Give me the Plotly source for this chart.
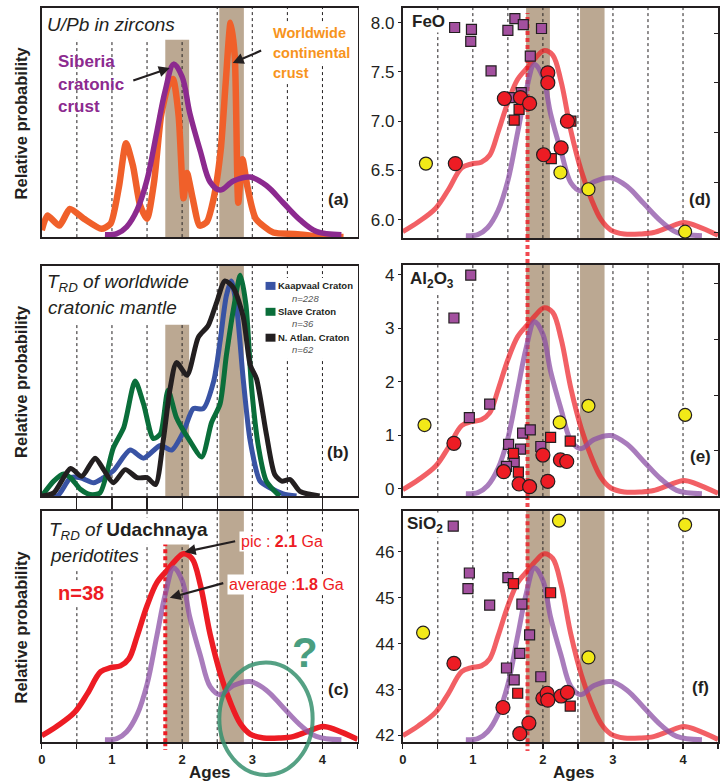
import plotly.graph_objects as go

W, H = 727, 783
FONT = "Liberation Sans, Arial, Helvetica, sans-serif"
INK = "#231f20"

# ---------------- data ----------------
# Panel (a): U/Pb in zircons
ages_siberia = [0.9, 1.07, 1.21, 1.36, 1.5, 1.64, 1.76, 1.88, 2.0, 2.11, 2.26, 2.4, 2.54, 2.73, 2.97, 3.2, 3.44, 3.68, 3.91, 4.27]
prob_siberia = [0.01, 0.015, 0.045, 0.12, 0.25, 0.46, 0.64, 0.755, 0.70, 0.54, 0.375, 0.24, 0.205, 0.245, 0.262, 0.225, 0.15, 0.075, 0.025, 0.01]

ages_world = [0.0, 0.08, 0.25, 0.4, 0.6, 0.85, 0.98, 1.1, 1.2, 1.3, 1.4, 1.5, 1.6, 1.7, 1.8, 1.87, 1.95, 2.02, 2.07,
              2.15, 2.25, 2.35, 2.45, 2.55, 2.62, 2.69, 2.75, 2.8, 2.86, 2.93, 3.05, 3.3, 3.6, 3.9, 4.3]
prob_world = [0.03, 0.094, 0.05, 0.123, 0.08, 0.036, 0.058, 0.22, 0.41, 0.31, 0.14, 0.08, 0.24, 0.53, 0.66, 0.69, 0.53, 0.17, 0.28,
              0.17, 0.05, 0.065, 0.17, 0.38, 0.67, 0.935, 0.79, 0.15, 0.34, 0.22, 0.08, 0.02, 0.014, 0.004, 0.0]

# Panel (b): T_RD of worldwide cratonic mantle
ages_kaap = [0.0, 0.22, 0.41, 0.55, 0.74, 0.88, 1.02, 1.26, 1.45, 1.69, 1.85, 2.02, 2.16, 2.3, 2.45, 2.54, 2.63, 2.7, 2.78, 2.87, 2.97, 3.11, 3.25, 3.44, 3.63]
prob_kaap = [0.0, 0.0, 0.08, 0.08, 0.058, 0.08, 0.11, 0.2, 0.165, 0.22, 0.2, 0.28, 0.38, 0.38, 0.5, 0.67, 0.87, 0.935, 0.81, 0.51, 0.24, 0.065, 0.036, 0.01, 0.0]

ages_slave = [0.0, 0.17, 0.31, 0.41, 0.55, 0.69, 0.83, 1.02, 1.17, 1.33, 1.45, 1.59, 1.69, 1.8, 1.92, 2.11, 2.28, 2.42, 2.54, 2.63, 2.73, 2.83, 2.91, 2.99, 3.09, 3.2, 3.39]
prob_slave = [0.0, 0.065, 0.096, 0.08, 0.03, 0.007, 0.014, 0.21, 0.3, 0.5, 0.4, 0.25, 0.27, 0.46, 0.34, 0.24, 0.17, 0.32, 0.4, 0.61, 0.81, 0.96, 0.83, 0.47, 0.21, 0.065, 0.0]

ages_natl = [0.0, 0.17, 0.41, 0.57, 0.76, 0.88, 1.02, 1.19, 1.36, 1.5, 1.62, 1.73, 1.83, 1.92, 2.07, 2.23, 2.37, 2.49, 2.61, 2.73, 2.87, 2.97, 3.06, 3.2, 3.32, 3.42, 3.54, 3.68, 3.96]
prob_natl = [0.0, 0.014, 0.12, 0.086, 0.165, 0.115, 0.058, 0.115, 0.08, 0.08, 0.05, 0.24, 0.47, 0.58, 0.525, 0.69, 0.74, 0.84, 0.935, 0.906, 0.78, 0.57, 0.51, 0.27, 0.094, 0.065, 0.072, 0.02, 0.0]

# Panel (c)-(f): T_RD of Udachnaya peridotites
ages_uda = [0.0, 0.22, 0.47, 0.65, 0.84, 0.98, 1.12, 1.24, 1.36, 1.5, 1.64, 1.79, 1.9, 2.02, 2.14, 2.26, 2.4, 2.55, 2.69, 2.83, 2.97, 3.16, 3.4, 3.58, 3.78, 4.01, 4.2, 4.5]
prob_uda = [0.028, 0.07, 0.13, 0.21, 0.305, 0.322, 0.33, 0.36, 0.46, 0.59, 0.69, 0.745, 0.785, 0.815, 0.795, 0.68, 0.465, 0.29, 0.17, 0.08, 0.035, 0.018, 0.018, 0.024, 0.045, 0.068, 0.052, 0.012]

# Panel (d) FeO
feo_psq_age = [0.74, 0.98, 0.97, 1.26, 1.50, 1.60, 1.72, 1.98, 1.82, 1.69, 1.52]
feo_psq_val = [7.95, 7.93, 7.81, 7.51, 7.92, 8.04, 7.98, 7.94, 7.66, 7.29, 7.24]
feo_rsq_age = [1.59, 1.66, 2.12, 2.40]
feo_rsq_val = [7.01, 7.12, 6.62, 7.00]
feo_rci_age = [0.75, 1.45, 1.68, 1.81, 2.07, 2.07, 2.35, 2.01, 2.26]
feo_rci_val = [6.57, 7.23, 7.24, 7.18, 7.49, 7.39, 7.00, 6.66, 6.73]
feo_yci_age = [0.33, 2.25, 2.65, 4.03]
feo_yci_val = [6.57, 6.48, 6.31, 5.88]

# Panel (e) Al2O3
al_psq_age = [0.97, 0.73, 0.95, 1.24, 1.51, 1.71, 1.82, 1.68, 1.59, 1.48, 1.97]
al_psq_val = [3.99, 3.19, 1.33, 1.58, 0.83, 1.04, 1.10, 0.74, 0.51, 0.42, 0.79]
al_rsq_age = [2.11, 2.39, 1.58, 1.65]
al_rsq_val = [0.96, 0.89, 0.66, 0.31]
al_rci_age = [0.73, 1.44, 1.66, 1.81, 2.00, 2.07, 2.25, 2.34]
al_rci_val = [0.85, 0.32, 0.09, 0.04, 0.63, 0.14, 0.54, 0.51]
al_yci_age = [0.31, 2.24, 2.65, 4.03]
al_yci_val = [1.19, 1.24, 1.55, 1.38]

# Panel (f) SiO2
si_psq_age = [0.72, 0.95, 0.93, 1.24, 1.50, 1.70, 1.81, 1.67, 1.48, 1.59, 1.97]
si_psq_val = [46.56, 45.54, 45.20, 44.84, 45.44, 44.86, 44.19, 43.79, 43.47, 43.21, 43.28]
si_rsq_age = [1.58, 2.11, 1.64, 2.39]
si_rsq_val = [45.31, 45.11, 42.92, 42.64]
si_rci_age = [0.73, 1.43, 1.67, 1.80, 2.00, 2.06, 2.07, 2.26, 2.35]
si_rci_val = [43.57, 42.61, 42.04, 42.27, 42.81, 42.92, 42.77, 42.86, 42.94]
si_yci_age = [0.29, 2.23, 2.65, 4.03]
si_yci_val = [44.24, 46.68, 43.70, 46.59]

grid_ages = [0.5, 1.0, 1.5, 2.0, 2.5, 3.0, 3.5, 4.0]
bands = [(1.76, 2.10), (2.53, 2.88)]
avg_age_c = 1.76
avg_age_right = 1.78
x_tick_vals = [0, 0.5, 1, 1.5, 2, 2.5, 3, 3.5, 4, 4.5]
x_tick_text = ["0", "", "1", "", "2", "", "3", "", "4", ""]
feo_ticks = [6.0, 6.5, 7.0, 7.5, 8.0]
al_ticks = [0, 1, 2, 3, 4]
si_ticks = [42, 43, 44, 45, 46]
right_ticks_d = [0.026, 0.242, 0.459, 0.675, 0.89]
right_ticks_e = [0.198, 0.435, 0.677, 0.918]

# ---------------- geometry (pixels) ----------------
XMAX = 4.5
LEFT = (38, 355.5)
RIGHT = (401, 718)
PA, PB, PC = (8, 238), (267, 498), (513, 745)
PD, PE, PF = (8, 239), (266, 498), (513, 745)


def xdom(s):
    return [s[0] / W, s[1] / W]


def ydom(p):
    return [1 - p[1] / H, 1 - p[0] / H]


def px_x(side, v):
    return side[0] + (side[1] - side[0]) * v / XMAX


def px_y(panel, frac):
    return panel[1] - (panel[1] - panel[0]) * frac


def ax_common(**kw):
    d = dict(showgrid=False, zeroline=False, showline=True, linecolor=INK,
             linewidth=1.6, mirror=True, ticks="", showticklabels=False)
    d.update(kw)
    return d


fig = go.Figure()

ORANGE = "#f0602a"
PURPLE = "#8c2a8f"
LPURPLE = "rgba(140,80,165,0.75)"
RED = "#ed1c24"
LRED = "rgba(237,28,36,0.70)"
BLUE = "#3953a4"
GREEN = "#0a6e3a"
BAND = "#bba892"


def line(x, y, xa, ya, color, width, smooth=1.0):
    fig.add_trace(go.Scatter(x=x, y=y, xaxis=xa, yaxis=ya, mode="lines",
                             line=dict(color=color, width=width, shape="spline", smoothing=smooth),
                             hoverinfo="skip"))


# (a)
line(ages_world, prob_world, "x", "y", ORANGE, 6.5, 0.6)
line(ages_siberia, prob_siberia, "x", "y", PURPLE, 5.5)
# (b)
line(ages_kaap, prob_kaap, "x2", "y2", BLUE, 5, 0.7)
line(ages_slave, prob_slave, "x2", "y2", GREEN, 5, 0.7)
line(ages_natl, prob_natl, "x2", "y2", INK, 5, 0.7)
# (c)
line(ages_uda, prob_uda, "x3", "y3", RED, 5.5)
line(ages_siberia, prob_siberia, "x3", "y3", LPURPLE, 5)
# (d)(e)(f) curves on the probability axes
for xa, ya in (("x4", "y4"), ("x5", "y5"), ("x6", "y6")):
    line(ages_uda, prob_uda, xa, ya, LRED, 5)
    line(ages_siberia, prob_siberia, xa, ya, LPURPLE, 5)


def pts(x, y, xa, ya, symbol, color, size):
    fig.add_trace(go.Scatter(x=x, y=y, xaxis=xa, yaxis=ya, mode="markers", cliponaxis=False,
                             marker=dict(symbol=symbol, color=color, size=size,
                                         line=dict(color=INK, width=1.2)),
                             hoverinfo="skip"))


SQP = "#a3509f"
YEL = "#f2e918"
for xa, ya, d in (("x4", "y7", (feo_psq_age, feo_psq_val, feo_rsq_age, feo_rsq_val, feo_rci_age, feo_rci_val, feo_yci_age, feo_yci_val)),
                  ("x5", "y8", (al_psq_age, al_psq_val, al_rsq_age, al_rsq_val, al_rci_age, al_rci_val, al_yci_age, al_yci_val)),
                  ("x6", "y9", (si_psq_age, si_psq_val, si_rsq_age, si_rsq_val, si_rci_age, si_rci_val, si_yci_age, si_yci_val))):
    pts(d[0], d[1], xa, ya, "square", SQP, 10)
    pts(d[2], d[3], xa, ya, "square", RED, 10)
    pts(d[4], d[5], xa, ya, "circle", RED, 14)
    pts(d[6], d[7], xa, ya, "circle", YEL, 13)

# ---------------- shapes ----------------
shapes = []
panels = [("x", "y"), ("x2", "y2"), ("x3", "y3"), ("x4", "y4"), ("x5", "y5"), ("x6", "y6")]
for xr, yr in panels:
    for b0, b1 in bands:
        shapes.append(dict(type="rect", xref=xr, yref=yr, x0=b0, x1=b1, y0=0, y1=1,
                           fillcolor=BAND, line=dict(width=0), layer="below"))
    for g in grid_ages:
        shapes.append(dict(type="line", xref=xr, yref=yr, x0=g, x1=g, y0=0, y1=1,
                           line=dict(color=INK, width=1, dash="3px,3px"), layer="below"))

# white masks where the reference leaves the top of the panel blank
masks = [("x", "y", 0.0, 2.45, 0.861, 1.0),
         ("x2", "y2", 0.0, 2.45, 0.745, 1.0),
         ("x2", "y2", 3.15, 4.5, 0.597, 0.948),
         ("x3", "y3", 0.0, 1.3, 0.746, 1.0),
         ("x3", "y3", 1.65, 2.3, 0.858, 1.0)]
for xr, yr, x0, x1, y0, y1 in masks:
    shapes.append(dict(type="rect", xref=xr, yref=yr, x0=x0, x1=x1, y0=y0, y1=y1,
                       fillcolor="white", line=dict(width=0), layer="below"))

# red dotted "average" lines
shapes.append(dict(type="line", xref="x3", yref="y3", x0=avg_age_c, x1=avg_age_c, y0=0, y1=0.858,
                   line=dict(color=RED, width=4, dash="4px,3px"), layer="below"))
xc = px_x(LEFT, avg_age_c) / W
shapes.append(dict(type="line", xref="paper", yref="paper", x0=xc, x1=xc, y0=1 - 745 / H, y1=1 - 753 / H,
                   line=dict(color=RED, width=4, dash="4px,3px"), layer="below"))
for xr, yr, top in (("x4", "y4", 0.978), ("x5", "y5", 1.0), ("x6", "y6", 1.0)):
    shapes.append(dict(type="line", xref=xr, yref=yr, x0=avg_age_right, x1=avg_age_right, y0=0, y1=top,
                       line=dict(color="rgba(237,28,36,0.8)", width=4, dash="4px,3px"), layer="below"))
xr_ = px_x(RIGHT, avg_age_right) / W
for a, b in ((239, 266), (498, 513), (745, 754)):
    shapes.append(dict(type="line", xref="paper", yref="paper", x0=xr_, x1=xr_, y0=1 - a / H, y1=1 - b / H,
                       line=dict(color="rgba(237,28,36,0.8)", width=4, dash="4px,3px"), layer="below"))

# green ellipse in (c)
ex0, ex1 = px_x(LEFT, 2.53), px_x(LEFT, 3.86)
ey0, ey1 = px_y(PC, 0.345), px_y(PC, -0.142)
shapes.append(dict(type="circle", xref="paper", yref="paper", x0=ex0 / W, x1=ex1 / W,
                   y0=1 - ey1 / H, y1=1 - ey0 / H, line=dict(color="rgba(55,145,110,0.85)", width=4),
                   layer="above"))

# legend squares for (b)
for col, (t, b) in ((BLUE, (283, 291)), (GREEN, (309, 317)), (INK, (335, 343))):
    shapes.append(dict(type="rect", xref="paper", yref="paper", x0=263 / W, x1=273 / W,
                       y0=1 - b / H, y1=1 - t / H, fillcolor=col, line=dict(width=0), layer="above"))

# ---------------- annotations ----------------
anns = []


def ann(text, x, y, size, color=INK, xanchor="left", yanchor="middle", bg=None, pad=1, **kw):
    d = dict(text=text, x=x / W, y=1 - y / H, xref="paper", yref="paper", showarrow=False,
             xanchor=xanchor, yanchor=yanchor, font=dict(size=size, color=color, family=FONT))
    if bg:
        d.update(bgcolor=bg, borderpad=pad)
    d.update(kw)
    anns.append(d)


def arrow(xr, yr, x, y, ax, ay):
    anns.append(dict(text="", x=x, y=y, xref=xr, yref=yr, ax=ax, ay=ay, showarrow=True,
                     arrowhead=2, arrowsize=1, arrowwidth=2.2, arrowcolor=INK, standoff=0))


# (a)
ann("<i>U/Pb in zircons</i>", 41, 25, 19, bg="white")
for i, t in enumerate(["Siberia", "cratonic", "crust"]):
    ann(f"<b>{t}</b>", 52, 62 + 22.5 * i, 17, color=PURPLE)
for i, t in enumerate(["Worldwide", "continental", "crust"]):
    ann(f"<b>{t}</b>", 267, 33 + 20 * i, 14.5, color="#f7941d", bg="white", pad=2)
arrow("x", "y", 1.824, 0.738, -38, 13)
arrow("x", "y", 2.72, 0.76, 30, -13)
ann("<b>(a)</b>", 336, 200, 17, xanchor="center")

# (b)
ann("<i>T<sub>RD</sub> of worldwide</i>", 41, 284, 19)
ann("<i>cratonic mantle</i>", 42, 309, 19)
leg = [("Kaapvaal Craton", 287, "n=228", 300),
       ("Slave Craton", 313, "n=36", 325),
       ("N. Atlan. Craton", 339, "n=62", 351)]
for name, yy, n, yn in leg:
    ann(f"<b>{name}</b>", 274, yy, 9.5)
    ann(f"<i>{n}</i>", 288, yn, 9.5, color="#555555")
ann("<b>(b)</b>", 336, 454, 17, xanchor="center")

# (c)
ann("<i>T<sub>RD</sub> of </i><b>Udachnaya</b>", 43, 533, 19, bg="white")
ann("<i>peridotites</i>", 44, 558, 19, bg="white")
ann("<b>n=38</b>", 52, 595, 20, color=RED, bg="white")
ann("pic : <b>2.1</b> Ga", 236, 544, 16, color=RED, bg="white")
ann("average :<b>1.8</b> Ga", 224, 587, 16, color=RED, bg="white")
arrow("x3", "y3", 2.036, 0.823, 52, -11)
arrow("x3", "y3", 1.824, 0.625, 55, -15)
ann("<b>?</b>", 303, 655, 42, color="#4a9e80", xanchor="center")
ann("<b>(c)</b>", 336, 692, 17, xanchor="center")

# right panels
ann("<b>FeO</b>", 408, 22, 17, bg="white")
ann("<b>Al<sub>2</sub>O<sub>3</sub></b>", 406, 281, 17, bg="white")
ann("<b>SiO<sub>2</sub></b>", 403, 527, 17, bg="white")
ann("<b>(d)</b>", 700, 200, 17, xanchor="center")
ann("<b>(e)</b>", 700, 458, 17, xanchor="center")
ann("<b>(f)</b>", 700, 690, 17, xanchor="center")

# axis titles
for p in (PA, PB, PC):
    ann("<b>Relative probability</b>", 17, (p[0] + p[1]) / 2, 16.5, xanchor="center", textangle=-90)
ann("<b>Ages</b>", 207, 775, 17, xanchor="center")
ann("<b>Ages</b>", 573, 775, 17, xanchor="center")

# ---------------- axes ----------------
tickfont_x = dict(size=13, color=INK, family=FONT, weight="bold")
tickfont_y = dict(size=17, color=INK, family=FONT)
lay = dict(
    xaxis=ax_common(domain=xdom(LEFT), range=[0, XMAX], anchor="y"),
    yaxis=ax_common(domain=ydom(PA), range=[0, 1], anchor="x"),
    xaxis2=ax_common(domain=xdom(LEFT), range=[0, XMAX], anchor="y2", ticks="outside",
                     tickvals=grid_ages, ticklen=12, tickwidth=1.2, tickcolor=INK),
    yaxis2=ax_common(domain=ydom(PB), range=[0, 1], anchor="x2"),
    xaxis3=ax_common(domain=xdom(LEFT), range=[0, XMAX], anchor="y3", ticks="outside", ticklen=5,
                     tickwidth=1.2, tickcolor=INK, tickvals=x_tick_vals, ticktext=x_tick_text,
                     showticklabels=True, tickfont=tickfont_x),
    yaxis3=ax_common(domain=ydom(PC), range=[0, 1], anchor="x3"),
    xaxis4=ax_common(domain=xdom(RIGHT), range=[0, XMAX], anchor="y4"),
    yaxis4=ax_common(domain=ydom(PD), range=[0, 1], anchor="x4", side="right", ticks="inside",
                     tickvals=right_ticks_d, ticklen=4, tickcolor=INK),
    xaxis5=ax_common(domain=xdom(RIGHT), range=[0, XMAX], anchor="y5"),
    yaxis5=ax_common(domain=ydom(PE), range=[0, 1], anchor="x5", side="right", ticks="inside",
                     tickvals=right_ticks_e, ticklen=4, tickcolor=INK),
    xaxis6=ax_common(domain=xdom(RIGHT), range=[0, XMAX], anchor="y6", ticks="outside", ticklen=5,
                     tickwidth=1.2, tickcolor=INK, tickvals=x_tick_vals, ticktext=x_tick_text,
                     showticklabels=True, tickfont=tickfont_x),
    yaxis6=ax_common(domain=ydom(PF), range=[0, 1], anchor="x6", side="right"),
    yaxis7=dict(overlaying="y4", anchor="x4", side="left", range=[5.815, 8.148], showgrid=False,
                zeroline=False, showline=False, ticks="outside", ticklen=4, tickcolor=INK,
                tickvals=feo_ticks, tickformat=".1f", tickfont=tickfont_y),
    yaxis8=dict(overlaying="y5", anchor="x5", side="left", range=[-0.136, 4.18], showgrid=False,
                zeroline=False, showline=False, ticks="outside", ticklen=4, tickcolor=INK,
                tickvals=al_ticks, tickfont=tickfont_y),
    yaxis9=dict(overlaying="y6", anchor="x6", side="left", range=[41.855, 46.89], showgrid=False,
                zeroline=False, showline=False, ticks="outside", ticklen=4, tickcolor=INK,
                tickvals=si_ticks, tickfont=tickfont_y),
)

fig.update_layout(width=W, height=H, margin=dict(l=0, r=0, t=0, b=0), autosize=False,
                  paper_bgcolor="white", plot_bgcolor="rgba(0,0,0,0)", showlegend=False,
                  font=dict(family=FONT, color=INK), shapes=shapes, annotations=anns, **lay)

fig.write_html("out.html", config={"displayModeBar": False, "staticPlot": True},
               post_script="document.body.style.margin='0';document.body.style.padding='0';"
                           "document.documentElement.style.overflow='hidden';")
